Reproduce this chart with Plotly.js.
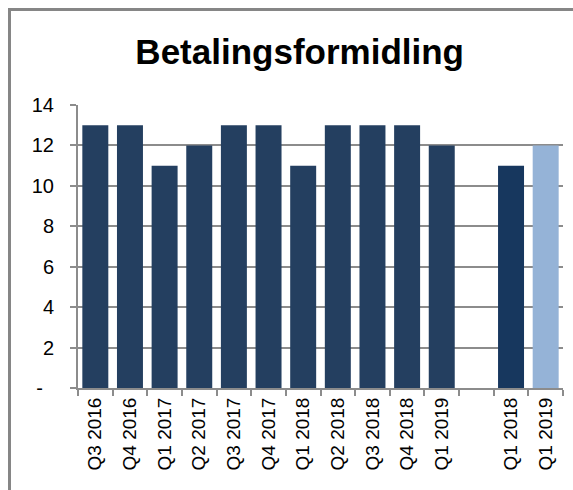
<!DOCTYPE html>
<html>
<head>
<meta charset="utf-8">
<script src="https://cdn.plot.ly/plotly-3.0.1.min.js"></script>
<style>
  html, body { margin: 0; padding: 0; background: #fff; }
  #wrap { position: relative; width: 573px; height: 490px; overflow: hidden; }
  #chart { position: absolute; left: 0; top: 0; width: 573px; height: 490px; }
  #frame { position: absolute; left: 8px; top: 8px; width: 700px; height: 700px;
           border-left: 3px solid #868686; border-top: 3px solid #868686; pointer-events: none; }
</style>
</head>
<body>
<div id="wrap"><div id="chart"></div><div id="frame"></div></div>
<script>
// Quarterly series
const periods = ["Q3 2016","Q4 2016","Q1 2017","Q2 2017","Q3 2017","Q4 2017","Q1 2018","Q2 2018","Q3 2018","Q4 2018","Q1 2019"];
const values  = [13, 13, 11, 12, 13, 13, 11, 13, 13, 13, 12];
// Comparison bars (after gap)
const compareLabels = ["Q1 2018","Q1 2019"];
const compareValues = [11, 12];
const compareColors = ["#17375E", "#95B3D7"];
const yTickVals = [0, 2, 4, 6, 8, 10, 12, 14];
const yTickText = ["-\u00a0\u00a0", "2", "4", "6", "8", "10", "12", "14"];

const mainIds = periods.map((p, i) => "m" + i);
const gapId = "gap";
const cmpIds = compareLabels.map((p, i) => "c" + i);
const allIds = mainIds.concat([gapId], cmpIds);
const allText = periods.concat([""], compareLabels);

const traces = [
  { type: "bar", x: mainIds, y: values, marker: { color: "#243F60" }, hoverinfo: "y" },
  { type: "bar", x: [gapId], y: [null], marker: { color: "#243F60" }, hoverinfo: "skip" },
  { type: "bar", x: cmpIds, y: compareValues, marker: { color: compareColors }, hoverinfo: "y" }
];

const layout = {
  width: 573, height: 490,
  margin: { l: 78, r: 10, t: 105, b: 102 },
  paper_bgcolor: "#fff", plot_bgcolor: "#fff",
  showlegend: false,
  barmode: "overlay",
  bargap: 0.25,
  title: { text: "<b>Betalingsformidling</b>", x: 0.523, xanchor: "center", y: 0.895, yanchor: "middle",
           font: { family: "Liberation Sans, Arial, sans-serif", size: 35, color: "#000" } },
  xaxis: {
    type: "category", categoryorder: "array", categoryarray: allIds,
    tickmode: "array", tickvals: allIds, ticktext: allText,
    tickson: "boundaries", ticks: "outside", ticklen: 6, tickwidth: 2, tickcolor: "#8c8c8c",
    tickangle: -90, showline: true, linecolor: "#8c8c8c", linewidth: 2,
    showgrid: false, zeroline: false,
    tickfont: { family: "Liberation Sans, Arial, sans-serif", size: 19, color: "#000" }
  },
  yaxis: {
    range: [0, 14], tickmode: "array", tickvals: yTickVals, ticktext: yTickText,
    ticks: "outside", ticklen: 6, tickwidth: 2, tickcolor: "#8c8c8c",
    showline: true, linecolor: "#8c8c8c", linewidth: 2,
    showgrid: true, gridcolor: "#8c8c8c", gridwidth: 2, zeroline: false,
    tickfont: { family: "Liberation Sans", size: 20, color: "#000" },
    ticklabelstandoff: 12
  }
};

Plotly.newPlot("chart", traces, layout, { staticPlot: true, displayModeBar: false });
</script>
</body>
</html>
